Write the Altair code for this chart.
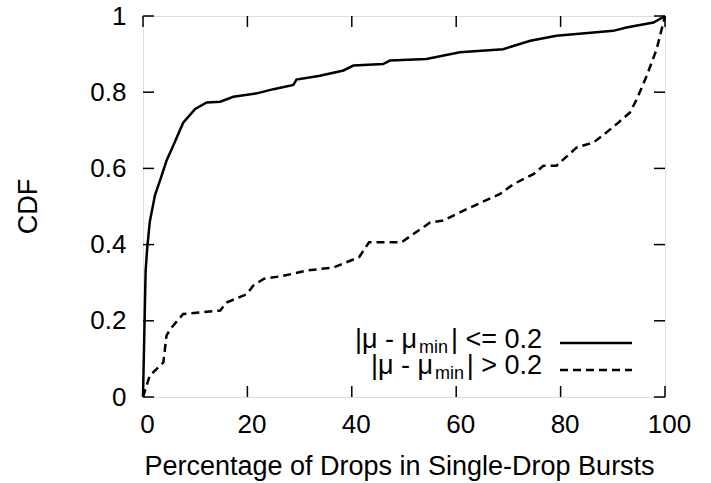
import altair as alt
import pandas as pd

# Data
solid_x = [0, 0.5, 0.8, 1.3, 2.3, 3.3, 4.5, 5.8, 7.7, 10, 12.2, 14.8, 17.3, 21.8, 25, 28.8, 29.4,
           33.9, 38.4, 40.3, 46, 47.3, 54.3, 60.7, 69, 74.2, 79.2, 86.3, 90.1, 92.6, 97.8, 100]
solid_y = [0, 0.33, 0.39, 0.46, 0.53, 0.57, 0.62, 0.66, 0.72, 0.756, 0.773, 0.775, 0.788, 0.797,
           0.808, 0.819, 0.833, 0.843, 0.857, 0.87, 0.874, 0.883, 0.887, 0.905, 0.913, 0.935,
           0.948, 0.957, 0.961, 0.97, 0.983, 1.0]
dashed_x = [0, 1.3, 3.9, 4.5, 5.2, 7.7, 14.8, 16, 19.9, 21.1, 23.1, 26.9, 31.4, 36.5, 41.4, 43.3,
            49.5, 55, 57.5, 62, 68.4, 71, 74.8, 76.7, 79.2, 83.1, 86.3, 88.2, 90.8, 93.3, 94.6,
            96.5, 98.4, 100]
dashed_y = [0, 0.056, 0.091, 0.161, 0.178, 0.218, 0.227, 0.248, 0.27, 0.292, 0.31, 0.318, 0.332,
            0.34, 0.367, 0.406, 0.406, 0.458, 0.463, 0.493, 0.533, 0.559, 0.585, 0.607, 0.607,
            0.655, 0.668, 0.688, 0.717, 0.747, 0.782, 0.843, 0.913, 1.0]
x_ticks = [0, 20, 40, 60, 80, 100]
y_ticks = [0, 0.2, 0.4, 0.6, 0.8, 1.0]
series_names = ["low", "high"]

W, H = 522, 381
FONT = "Liberation Sans"
LFS = 26
TFS = 27

solid_df = pd.DataFrame({"x": solid_x, "y": solid_y, "s": series_names[0], "o": range(len(solid_x))})
dashed_df = pd.DataFrame({"x": dashed_x, "y": dashed_y, "s": series_names[1], "o": range(len(dashed_x))})

xscale = alt.Scale(domain=[0, 100], nice=False)
yscale = alt.Scale(domain=[0, 1], nice=False)

base_axes = alt.Chart(pd.DataFrame({"x": [0], "y": [0]})).mark_point(opacity=0).encode(
    x=alt.X("x:Q", scale=xscale, axis=alt.Axis(
        values=x_ticks, title="Percentage of Drops in Single-Drop Bursts", ticks=False, domain=False,
        grid=False, labelFont=FONT, labelFontSize=LFS, labelColor="black", labelPadding=14,
        labelOffset=4, labelFlush=False, titleFont=FONT, titleFontSize=TFS, titleFontWeight="normal",
        titleColor="black", titleY=77, titleBaseline="alphabetic", titleX=256)),
    y=alt.Y("y:Q", scale=yscale, axis=alt.Axis(
        values=y_ticks, format="~g", title="CDF", ticks=False, domain=False, grid=False,
        labelFont=FONT, labelFontSize=LFS, labelColor="black", labelPadding=17, labelFlush=False,
        titleFont=FONT, titleFontSize=TFS, titleFontWeight="normal", titleColor="black",
        titleX=-115, titleY=190, titleAngle=-90, titleAlign="center", titleBaseline="middle")),
)

solid = alt.Chart(solid_df).mark_line(color="black", strokeWidth=2.5).encode(
    x=alt.X("x:Q", scale=xscale), y=alt.Y("y:Q", scale=yscale), order="o:Q")
dashed = alt.Chart(dashed_df).mark_line(color="black", strokeWidth=2.5, strokeDash=[8, 5]).encode(
    x=alt.X("x:Q", scale=xscale), y=alt.Y("y:Q", scale=yscale), order="o:Q")

TL = 11
xt = pd.DataFrame({"t": x_ticks})
yt = pd.DataFrame({"t": y_ticks})
xb = alt.Chart(xt).mark_rule(color="black", strokeWidth=1.5).encode(
    x=alt.X("t:Q", scale=xscale), y=alt.value(H), y2=alt.value(H - TL))
xtop = alt.Chart(xt).mark_rule(color="black", strokeWidth=1.5).encode(
    x=alt.X("t:Q", scale=xscale), y=alt.value(0), y2=alt.value(TL))
yl = alt.Chart(yt).mark_rule(color="black", strokeWidth=1.5).encode(
    y=alt.Y("t:Q", scale=yscale), x=alt.value(0), x2=alt.value(TL))
yr = alt.Chart(yt).mark_rule(color="black", strokeWidth=1.5).encode(
    y=alt.Y("t:Q", scale=yscale), x=alt.value(W - TL), x2=alt.value(W))

# Legend (manual, with subscripts)
legend_rows = [
    {"a": "|\u03bc - \u03bc", "b": "min", "c": "| <= 0.2", "base": 332, "sub": 337,
     "line": 327, "cx": 305, "ax": 274, "dash": [1, 0]},
    {"a": "|\u03bc - \u03bc", "b": "min", "c": "| > 0.2", "base": 358, "sub": 363,
     "line": 354, "cx": 321, "ax": 290, "dash": [8, 5]},
]
legend_layers = []
for row in legend_rows:
    d = pd.DataFrame({"v": [0]})
    legend_layers.append(alt.Chart(d).mark_text(
        font=FONT, fontSize=TFS, align="right", baseline="alphabetic", color="black").encode(
        x=alt.value(399), y=alt.value(row["base"]), text=alt.value(row["c"])))
    legend_layers.append(alt.Chart(d).mark_text(
        font=FONT, fontSize=18, align="right", baseline="alphabetic", color="black").encode(
        x=alt.value(row["cx"]), y=alt.value(row["sub"]), text=alt.value(row["b"])))
    legend_layers.append(alt.Chart(d).mark_text(
        font=FONT, fontSize=TFS, align="right", baseline="alphabetic", color="black").encode(
        x=alt.value(row["ax"]), y=alt.value(row["base"]), text=alt.value(row["a"])))
    legend_layers.append(alt.Chart(d).mark_rule(
        color="black", strokeWidth=2.5, strokeDash=row["dash"]).encode(
        x=alt.value(417), x2=alt.value(489), y=alt.value(row["line"])))

chart = alt.layer(base_axes, xb, xtop, yl, yr, solid, dashed, *legend_layers).properties(
    width=W, height=H,
    autosize=alt.AutoSizeParams(type="none"),
    padding={"left": 143, "top": 16, "right": 46, "bottom": 86},
).configure_view(stroke="black", strokeWidth=2).configure(background="white")

chart.save("out.html", embed_options={"renderer": "svg", "actions": False})
